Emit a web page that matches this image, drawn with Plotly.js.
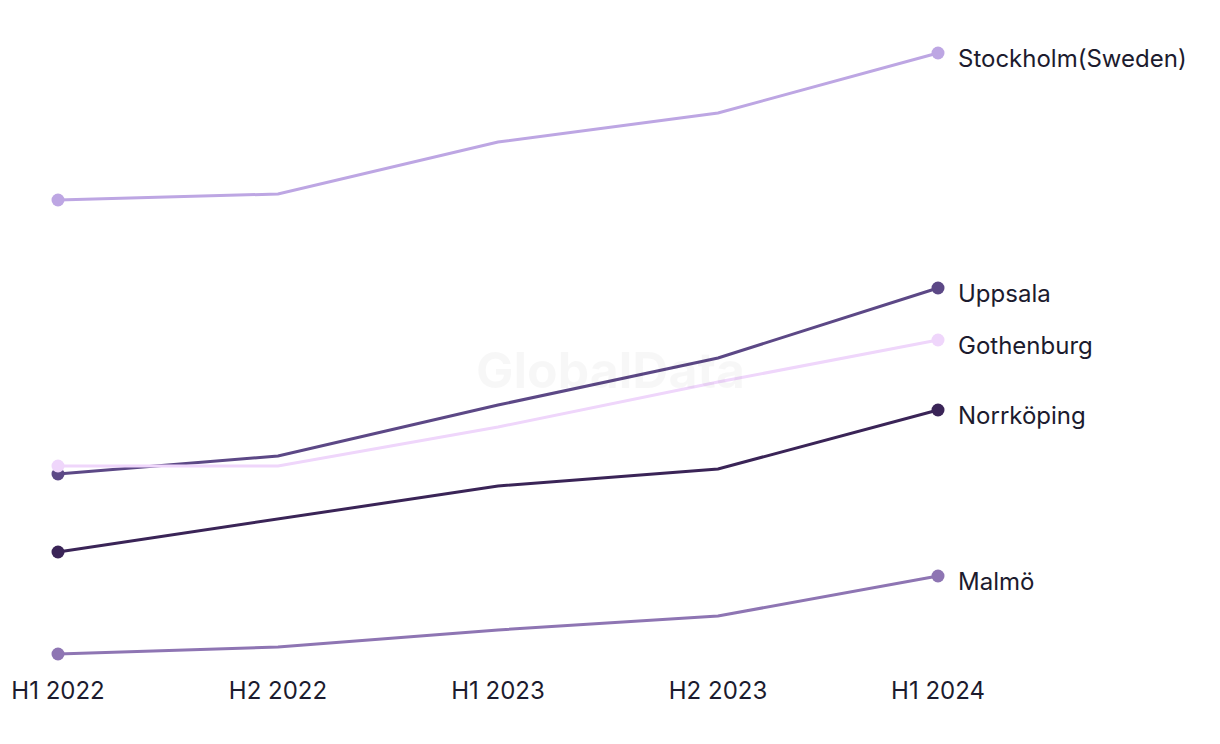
<!DOCTYPE html>
<html>
<head>
<meta charset="utf-8">
<script src="https://cdn.plot.ly/plotly-3.0.1.min.js"></script>
<style>html,body{margin:0;padding:0;background:#fff;}#chart{width:1220px;height:744px;}</style>
</head>
<body>
<div id="chart"></div>
<script>
const periods = ["H1 2022", "H2 2022", "H1 2023", "H2 2023", "H1 2024"];
const cities = ["Stockholm(Sweden)", "Uppsala", "Gothenburg", "Norrköping", "Malmö"];
const stockholm = [500, 506, 558, 587, 647];
const uppsala = [226, 244, 295, 342, 412];
const gothenburg = [234, 234, 273, 318, 360];
const norrkoping = [148, 181, 214, 231, 290];
const malmo = [46, 53, 70, 84, 124];
const colors = ["#bda6e3", "#5c4886", "#efd6fb", "#3a2457", "#8e75b3"];

const series = [stockholm, uppsala, gothenburg, norrkoping, malmo];
const xIdx = periods.map((p, i) => i);
const traces = series.map((vals, k) => ({
  x: xIdx, y: vals, type: "scatter", mode: "lines+markers",
  line: {color: colors[k], width: 3},
  marker: {color: colors[k], opacity: 1, line: {width: 0},
    size: vals.map((v, i) => (i === 0 || i === vals.length - 1) ? 13 : 0)},
  cliponaxis: false, hoverinfo: "skip", showlegend: false
}));

const annotations = series.map((vals, k) => ({
  x: vals.length - 1, y: vals[vals.length - 1], xref: "x", yref: "y",
  text: cities[k], showarrow: false, xanchor: "left", yanchor: "middle",
  xshift: 18, yshift: -5, font: {family: "Inter, 'Noto Sans', sans-serif", size: 24, color: "#1c1b2e"}
}));
annotations.push({
  x: 0.5, y: (700 - 370 - 26) / 674, xref: "paper", yref: "paper",
  text: "<b>GlobalData</b>", showarrow: false, xanchor: "center", yanchor: "middle",
  font: {family: "Inter, 'Noto Sans', sans-serif", size: 50, color: "rgba(0,0,0,0.03)"}
});

Plotly.newPlot("chart", traces, {
  width: 1220, height: 744,
  margin: {l: 0, r: 0, t: 0, b: 70},
  paper_bgcolor: "#fff", plot_bgcolor: "#fff",
  xaxis: {range: [-58/220, -58/220 + 1220/220], tickvals: xIdx, ticktext: periods,
    showgrid: false, zeroline: false, showline: false, ticks: "",
    tickfont: {family: "Inter, 'Noto Sans', sans-serif", size: 24, color: "#1c1b2e"}},
  yaxis: {range: [26, 700], visible: false, showgrid: false, zeroline: false},
  annotations: annotations
}, {staticPlot: true});
</script>
</body>
</html>
